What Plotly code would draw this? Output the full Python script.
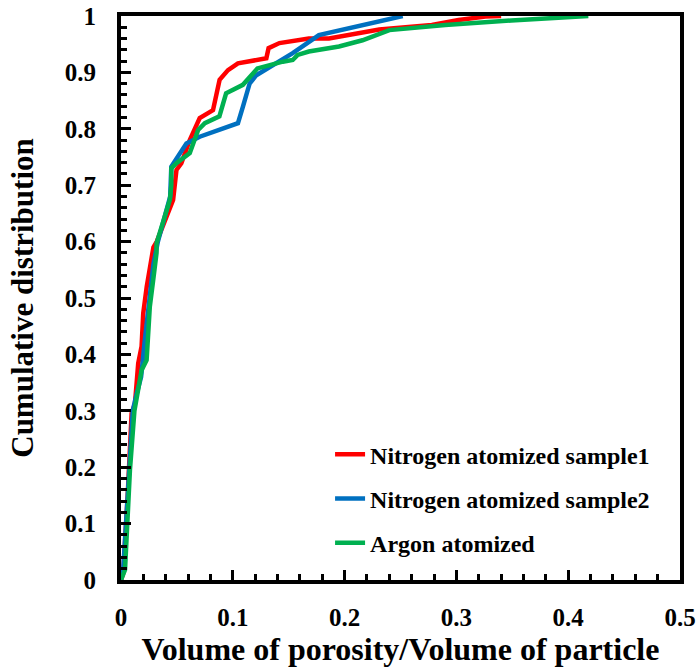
import plotly.graph_objects as go

# Data
n1_x = [0, 0.002, 0.006, 0.0095, 0.0125, 0.0154, 0.0184, 0.0199, 0.023, 0.026, 0.029, 0.032, 0.038, 0.044,
        0.0466, 0.0496, 0.054, 0.0615, 0.0704, 0.0823, 0.0853, 0.0882, 0.0957, 0.1046, 0.130, 0.132, 0.1417,
        0.168, 0.186, 0.231, 0.278, 0.302, 0.326, 0.340]
n1_y = [0, 0.012, 0.15, 0.296, 0.313, 0.384, 0.414, 0.473, 0.52, 0.56, 0.59, 0.60, 0.63, 0.66,
        0.674, 0.727, 0.739, 0.780, 0.819, 0.833, 0.863, 0.887, 0.904, 0.916, 0.925, 0.943, 0.952,
        0.960, 0.960, 0.976, 0.984, 0.993, 0.999, 1.0]

n2_x = [0, 0.002, 0.006, 0.0105, 0.014, 0.018, 0.021, 0.025, 0.029, 0.033, 0.039, 0.044, 0.045, 0.0585,
        0.0704, 0.1046, 0.109, 0.115, 0.121, 0.136, 0.1536, 0.177, 0.216, 0.2457, 0.252]
n2_y = [0, 0.02, 0.15, 0.30, 0.33, 0.36, 0.42, 0.50, 0.56, 0.60, 0.64, 0.68, 0.733, 0.774,
        0.786, 0.810, 0.839, 0.880, 0.895, 0.913, 0.934, 0.966, 0.984, 0.998, 1.0]

ar_x = [0, 0.0036, 0.008, 0.012, 0.0169, 0.0184, 0.0229, 0.0243, 0.0258, 0.0288, 0.0318, 0.0318, 0.0377,
        0.0437, 0.045, 0.045, 0.0496, 0.0615, 0.069, 0.075, 0.088, 0.094, 0.109, 0.122, 0.1447, 0.1536,
        0.158, 0.168, 0.195, 0.216, 0.240, 0.290, 0.349, 0.418]
ar_y = [0, 0.018, 0.195, 0.30, 0.355, 0.372, 0.39, 0.449, 0.485, 0.532, 0.580, 0.597, 0.633,
        0.674, 0.700, 0.730, 0.739, 0.757, 0.798, 0.810, 0.822, 0.863, 0.878, 0.907, 0.919, 0.922,
        0.931, 0.937, 0.946, 0.957, 0.975, 0.984, 0.992, 1.0]

names = ["Nitrogen atomized sample1", "Nitrogen atomized sample2", "Argon atomized"]
colors = ["#FF0000", "#0070C0", "#00B050"]

FONT = "Liberation Serif"

fig = go.Figure()
for i, (xs, ys) in enumerate([(n1_x, n1_y), (n2_x, n2_y), (ar_x, ar_y)]):
    fig.add_trace(go.Scatter(x=xs, y=ys, mode="lines", name=names[i], legendgroup=str(i),
                             line=dict(color=colors[i], width=4.5)))

axis_common = dict(
    showline=True, linecolor="black", linewidth=4, mirror=True,
    ticks="inside", ticklen=10, tickwidth=3, tickcolor="black",
    showgrid=False, zeroline=False, automargin=False, ticklabeloverflow="allow",
    tickfont=dict(family=FONT, size=25, color="black", weight="bold"),
)

fig.update_xaxes(range=[0, 0.5], dtick=0.1, tick0=0, ticklabelstandoff=12,
                 minor=dict(ticks="inside", dtick=0.02, ticklen=6, tickwidth=3, tickcolor="black"),
                 title=dict(text="Volume of porosity/Volume of particle",
                            font=dict(family=FONT, size=32, color="black", weight="bold"), standoff=2),
                 **axis_common)
fig.update_yaxes(range=[0, 1], dtick=0.1, tick0=0, ticklabelstandoff=16,
                 minor=dict(ticks="inside", dtick=0.02, ticklen=6, tickwidth=3, tickcolor="black"),
                 title=dict(text="Cumulative distribution",
                            font=dict(family=FONT, size=31, color="black", weight="bold"), standoff=23),
                 **axis_common)

fig.update_layout(
    width=700, height=667,
    margin=dict(l=121, r=20, t=16, b=87),
    plot_bgcolor="white", paper_bgcolor="white",
    legend=dict(x=0.374, y=0.262, xanchor="left", yanchor="top", bgcolor="rgba(0,0,0,0)",
                font=dict(family=FONT, size=24, color="black", weight="bold"),
                traceorder="grouped", tracegroupgap=10),
)

# remove the default page margin so the figure fills the window exactly
fig.write_html("out.html", config={"displayModeBar": False},
               post_script="document.body.style.margin='0';")
